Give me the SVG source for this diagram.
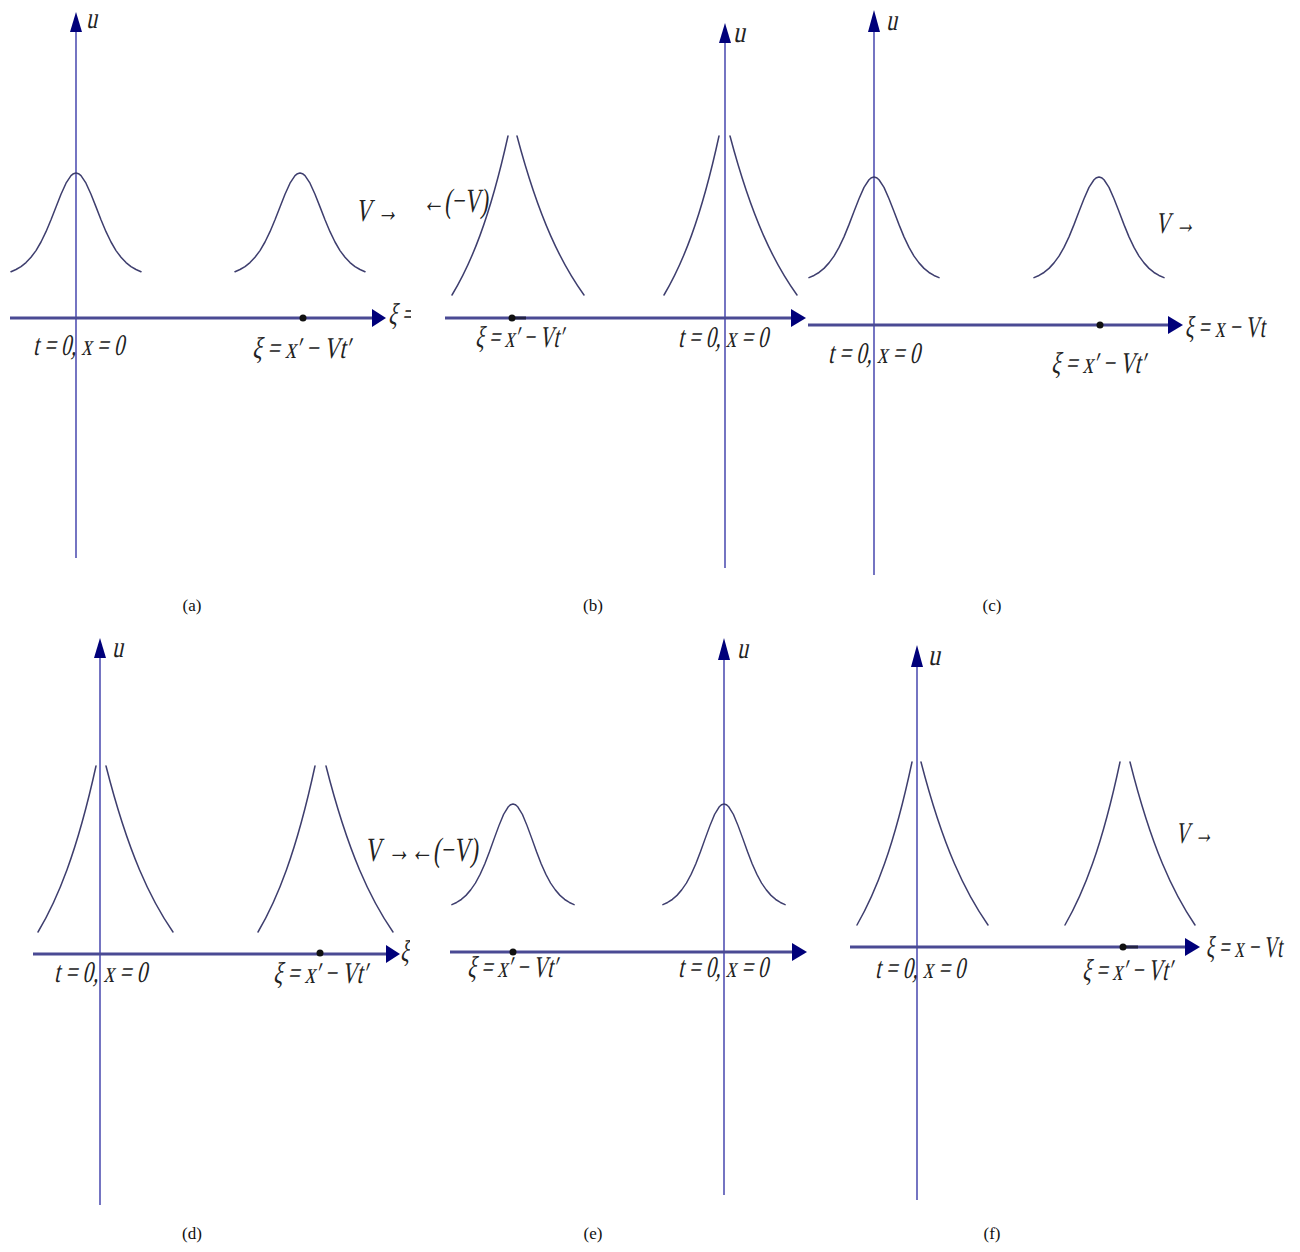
<svg xmlns="http://www.w3.org/2000/svg" width="1300" height="1252" viewBox="0 0 1300 1252">
<style>
.bg{fill:#ffffff}
.vax{stroke:#3a3aa8;stroke-width:1.4;fill:none}
.hax{stroke:#4a4a94;stroke-width:3;fill:none}
.head{fill:#00007a}
.crv{stroke:#3e3e6e;stroke-width:1.5;fill:none;stroke-linejoin:round;stroke-linecap:round}
.dot{fill:#111111}
.tail{stroke:#222244;stroke-width:3}
.m{font-family:"Liberation Serif","Times New Roman",serif;font-style:normal;fill:#222222}
.cap{font-family:"Liberation Serif","Times New Roman",serif;font-size:17px;fill:#111111}
</style>
<defs>
<path id="bell" d="M-65,98.7 L-60,96.5 L-55,93.6 L-50,89.6 L-45,84.2 L-40,77.6 L-35,69 L-30,58.7 L-25,46.7 L-20,33.9 L-15,21.3 L-10,10.2 L-5,2.7 L-2.5,0.7 L0,0 L2.5,0.7 L5,2.7 L10,10.2 L15,21.3 L20,33.9 L25,46.7 L30,58.7 L35,69 L40,77.6 L45,84.2 L50,89.6 L55,93.6 L60,96.5 L65,98.7"/>
<clipPath id="clipA"><rect x="0" y="0" width="411" height="620"/></clipPath>
<clipPath id="clipD"><rect x="0" y="620" width="410" height="632"/></clipPath>
</defs>
<rect class="bg" x="0" y="0" width="1300" height="1252"/>

<g id="connectors">
  <line class="vax" x1="76" y1="28" x2="76" y2="558"/>
  <polygon class="head" points="76,12 70,32 82,32"/>
  <line class="hax" x1="10" y1="318" x2="374" y2="318"/>
  <polygon class="head" points="386,318 372,309 372,327"/>
  <line class="vax" x1="725" y1="38" x2="725" y2="568"/>
  <polygon class="head" points="725,23 719,43 731,43"/>
  <line class="hax" x1="445" y1="318" x2="793" y2="318"/>
  <polygon class="head" points="806,318 791,309 791,327"/>
  <line class="vax" x1="874" y1="28" x2="874" y2="575"/>
  <polygon class="head" points="874,10 868,32 880,32"/>
  <line class="hax" x1="808" y1="325" x2="1170" y2="325"/>
  <polygon class="head" points="1183,325 1168,316 1168,334"/>
  <line class="vax" x1="100" y1="655" x2="100" y2="1205"/>
  <polygon class="head" points="100,638 94,658 106,658"/>
  <line class="hax" x1="33" y1="954" x2="388" y2="954"/>
  <polygon class="head" points="400,954 386,945 386,963"/>
  <line class="vax" x1="724" y1="655" x2="724" y2="1195"/>
  <polygon class="head" points="724,638 718,660 730,660"/>
  <line class="hax" x1="450" y1="952" x2="794" y2="952"/>
  <polygon class="head" points="807,952 792,943 792,961"/>
  <line class="vax" x1="917" y1="662" x2="917" y2="1200"/>
  <polygon class="head" points="917,645 911,667 923,667"/>
  <line class="hax" x1="850" y1="947" x2="1187" y2="947"/>
  <polygon class="head" points="1200,947 1185,938 1185,956"/>
</g>

<g id="panel-a">
  <use href="#bell" class="crv" transform="translate(76,173)"/>
  <use href="#bell" class="crv" transform="translate(300,173)"/>
  <circle class="dot" cx="303" cy="318" r="3.5"/>
  <text class="m" transform="translate(86,28) skewX(-12)" font-size="30" textLength="11" lengthAdjust="spacingAndGlyphs">u</text>
  <text class="m" transform="translate(355,221) skewX(-12)" font-size="32" textLength="43" lengthAdjust="spacingAndGlyphs">V →</text>
  <text class="m" transform="translate(33,355) skewX(-12)" font-size="30" textLength="91" lengthAdjust="spacingAndGlyphs">t = 0, x = 0</text>
  <text class="m" transform="translate(252,358) skewX(-12)" font-size="30" textLength="98" lengthAdjust="spacingAndGlyphs">ξ = x′ − Vt′</text>
  <g clip-path="url(#clipA)">
    <text class="m" transform="translate(388,324) skewX(-12)" font-size="30" textLength="80" lengthAdjust="spacingAndGlyphs">ξ = x − Vt</text>
  </g>
  <text class="cap" x="192" y="611" text-anchor="middle">(a)</text>
</g>

<g id="panel-b">
  <path class="crv" d="M508,136 C489.3,220 470.7,264 452,295 M517,136 C539.3,220 561.7,264 584,295"/>
  <path class="crv" d="M719,136 C700.7,220 682.3,264 664,295 M730,136 C752.3,220 774.7,264 797,295"/>
  <line class="tail" x1="512" y1="318" x2="526" y2="318"/>
  <circle class="dot" cx="512" cy="318" r="3.5"/>
  <text class="m" transform="translate(733,42) skewX(-12)" font-size="30" textLength="12" lengthAdjust="spacingAndGlyphs">u</text>
  <text class="m" transform="translate(422,212) skewX(-8)" font-size="34" textLength="66" lengthAdjust="spacingAndGlyphs">←(−V)</text>
  <text class="m" transform="translate(475,347) skewX(-12)" font-size="30" textLength="88" lengthAdjust="spacingAndGlyphs">ξ = x′ − Vt′</text>
  <text class="m" transform="translate(678,347) skewX(-12)" font-size="30" textLength="90" lengthAdjust="spacingAndGlyphs">t = 0, x = 0</text>
  <text class="cap" x="593" y="611" text-anchor="middle">(b)</text>
</g>

<g id="panel-c">
  <use href="#bell" class="crv" transform="translate(874,177) scale(1,1.02)"/>
  <use href="#bell" class="crv" transform="translate(1099,177) scale(1,1.02)"/>
  <circle class="dot" cx="1100" cy="325" r="3.5"/>
  <text class="m" transform="translate(886,30) skewX(-12)" font-size="30" textLength="11" lengthAdjust="spacingAndGlyphs">u</text>
  <text class="m" transform="translate(1155,233) skewX(-12)" font-size="30" textLength="40" lengthAdjust="spacingAndGlyphs">V →</text>
  <text class="m" transform="translate(1185,337) scale(0.66,1) skewX(-12)" font-size="30">ξ = x − Vt</text>
  <text class="m" transform="translate(828,363) skewX(-12)" font-size="30" textLength="92" lengthAdjust="spacingAndGlyphs">t = 0, x = 0</text>
  <text class="m" transform="translate(1051,373) skewX(-12)" font-size="30" textLength="94" lengthAdjust="spacingAndGlyphs">ξ = x′ − Vt′</text>
  <text class="cap" x="992" y="611" text-anchor="middle">(c)</text>
</g>

<g id="panel-d">
  <path class="crv" d="M96,766 C76.7,853.6 57.3,899.6 38,932 M106,766 C128.3,853.6 150.7,899.6 173,932"/>
  <path class="crv" d="M315,766 C296,853.6 277,899.6 258,932 M326,766 C348.3,853.6 370.7,899.6 393,932"/>
  <circle class="dot" cx="320" cy="953" r="3.5"/>
  <text class="m" transform="translate(112,657) skewX(-12)" font-size="30" textLength="11" lengthAdjust="spacingAndGlyphs">u</text>
  <text class="m" transform="translate(54,982) skewX(-12)" font-size="30" textLength="93" lengthAdjust="spacingAndGlyphs">t = 0, x = 0</text>
  <text class="m" transform="translate(273,983) skewX(-12)" font-size="30" textLength="94" lengthAdjust="spacingAndGlyphs">ξ = x′ − Vt′</text>
  <g clip-path="url(#clipD)">
    <text class="m" transform="translate(400,961) skewX(-12)" font-size="30" textLength="80" lengthAdjust="spacingAndGlyphs">ξ = x − Vt</text>
  </g>
  <text class="cap" x="192" y="1239" text-anchor="middle">(d)</text>
</g>

<g id="label-de">
  <text class="m" transform="translate(365,861) skewX(-8)" font-size="34" textLength="113" lengthAdjust="spacingAndGlyphs">V →←(−V)</text>
</g>

<g id="panel-e">
  <use href="#bell" class="crv" transform="translate(513,804) scale(0.94,1.02)"/>
  <use href="#bell" class="crv" transform="translate(724,804) scale(0.94,1.02)"/>
  <circle class="dot" cx="513" cy="952" r="3.5"/>
  <text class="m" transform="translate(737,658) skewX(-12)" font-size="30" textLength="11" lengthAdjust="spacingAndGlyphs">u</text>
  <text class="m" transform="translate(467,977) skewX(-12)" font-size="30" textLength="90" lengthAdjust="spacingAndGlyphs">ξ = x′ − Vt′</text>
  <text class="m" transform="translate(678,977) skewX(-12)" font-size="30" textLength="90" lengthAdjust="spacingAndGlyphs">t = 0, x = 0</text>
  <text class="cap" x="593" y="1239" text-anchor="middle">(e)</text>
</g>

<g id="panel-f">
  <path class="crv" d="M912,762 C893.7,848 875.3,893.2 857,925 M921,762 C943.3,848 965.7,893.2 988,925"/>
  <path class="crv" d="M1120,762 C1101.7,848 1083.3,893.2 1065,925 M1130,762 C1151.7,848 1173.3,893.2 1195,925"/>
  <line class="tail" x1="1123" y1="947" x2="1138" y2="947"/>
  <circle class="dot" cx="1123" cy="947" r="3.5"/>
  <text class="m" transform="translate(928,665) skewX(-12)" font-size="30" textLength="12" lengthAdjust="spacingAndGlyphs">u</text>
  <text class="m" transform="translate(1175,843) skewX(-12)" font-size="30" textLength="38" lengthAdjust="spacingAndGlyphs">V →</text>
  <text class="m" transform="translate(1206,957) scale(0.63,1) skewX(-12)" font-size="30">ξ = x − Vt</text>
  <text class="m" transform="translate(875,978) skewX(-12)" font-size="30" textLength="90" lengthAdjust="spacingAndGlyphs">t = 0, x = 0</text>
  <text class="m" transform="translate(1082,980) skewX(-12)" font-size="30" textLength="90" lengthAdjust="spacingAndGlyphs">ξ = x′ − Vt′</text>
  <text class="cap" x="992" y="1239" text-anchor="middle">(f)</text>
</g>
</svg>
